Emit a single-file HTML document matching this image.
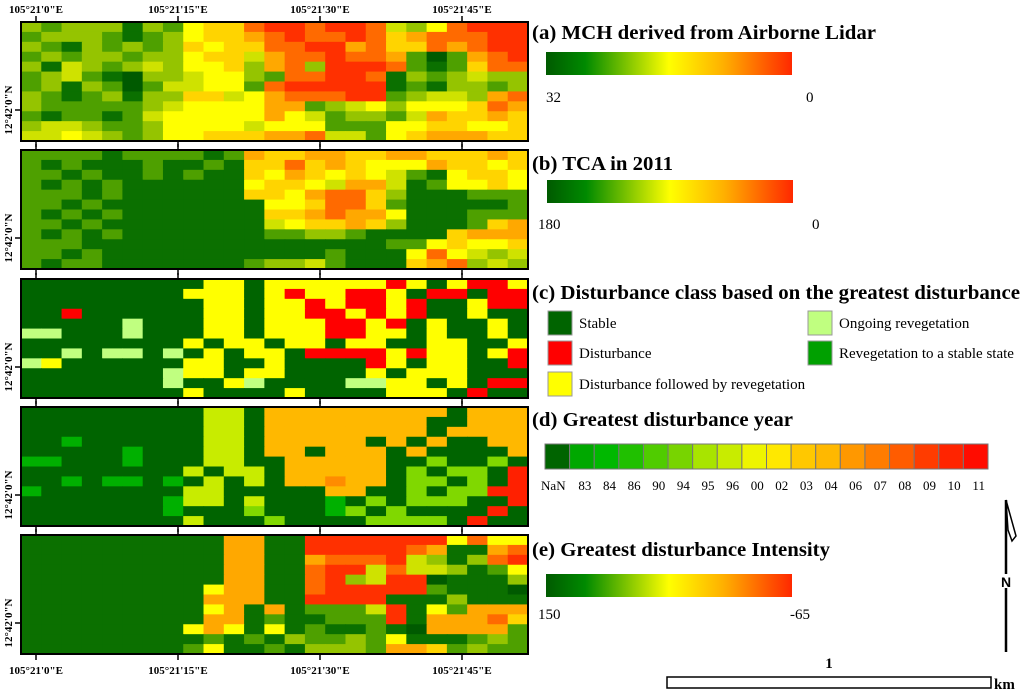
<!DOCTYPE html>
<html><head><meta charset="utf-8">
<style>
html,body{margin:0;padding:0;background:#fff;}
body{position:relative;width:1024px;height:692px;overflow:hidden;}
svg{display:block;font-family:"Liberation Serif",serif;}
</style></head>
<body>
<svg id="fig" width="1024" height="692" viewBox="0 0 1024 692" xmlns="http://www.w3.org/2000/svg">
<defs>
<linearGradient id="ramp" x1="0" x2="1" y1="0" y2="0">
<stop offset="0" stop-color="#005a00"/><stop offset="0.16" stop-color="#008a00"/>
<stop offset="0.5" stop-color="#ffff00"/><stop offset="0.72" stop-color="#ffb000"/>
<stop offset="1" stop-color="#ff2800"/></linearGradient>
</defs>
<g id="maps"></g>
<g id="legends"></g>
</svg>
<script>
// ---- data (raster class codes per row) ----
const panelA = ["3233313256689989984358999","2333212356678988986788899","3213232365668899786687899","2323323356647889887202789","3143234355637839998212688","2342103345532889981323433","2313202445528999991213323","3212313366457888992344378","3222223455557723453555687","2122124555557542332476676","3443223555545552225566556","4454323556667784425677766"];
const panelB = ["2222122221276677667766676","2121112112166867655576656","2212112121165765654215665","2121211111156654774125565","2221211111166578863111222","2212111111115568862111112","2121211111116678775111222","2212111111114566763111267","2121211111112233211116777","2221111111111111112256556","2212111111111112111585434","2122111111123342111678343"];
const panelC = ["SSSSSSSSSYYSYYYYYYDYSYDDY","SSSSSSSSYYYSYDYYDDYSDDSDD","SSSSSSSSSYYSYYDYDDYDSSYDD","SSDSSSSSSYYSYYDDYDYDSSYSS","SSSSSLSSSYYSYYYDDYDSYSSYS","LLSSSLSSSYYSYYYDDYYSYSSYS","SSSSSSSSYSYYSYYSYYSSYYSSY","SSLSLLSLSYSYYSDDDDYDYYSYD","LYSSSSSSYYSSYSSSSDYSYYSSD","SSSSSSSLYYSYYSSSSYSYYYSSS","SSSSSSSLSSYLSSSSLLYYSYSDD","SSSSSSSSYSSSSYSSSSYYYSDSS"];
const panelD = ["GGGGGGGGGyyGoooooooooGooo","GGGGGGGGGyyGooooooooGGooo","GGGGGGGGGyyGooooooooGoooo","GGgGGGGGGyyGoooooGoGoGGoo","GGGGGgGGGyyGooGoooGoGGGGo","ggGGGgGGGyyGGoooooGGlGGlG","GGGGGGGGyGyyGoooooGlGllGr","GGgGggGgGyGyGooOooGllGlGr","gGGGGGGGyyGGGGGooGGlGllrr","GGGGGGGgyyGyGGGgGlGlllGGr","GGGGGGGgGGGlGGGglGlGGGGrG","GGGGGGGGyGGGlGGGGllllGrGG"];
const panelE = ["1111111111771199999995855","1111111111771199999871178","1111111111771178889431389","1111111111771189948443125","1111111111771189349901113","1111111115771189999921110","1111111117771199991113111","1111111115717122249152777","1111111117712112229177786","1111111157515121121077772","1111111112121322325111232","1111111125112133327762322"];
const yearLabels = ["NaN","83","84","86","90","94","95","96","00","02","03","04","06","07","08","09","10","11"];
const xTickLabels = ["105°21'0\"E","105°21'15\"E","105°21'30\"E","105°21'45\"E"];

const rampColors = {"0":"#005a00","1":"#0b7000","2":"#4ea000","3":"#95c400","4":"#cfe200","5":"#ffff00","6":"#ffd400","7":"#ffa800","8":"#ff6a00","9":"#ff3000"};
const classColors = {"S":"#006400","D":"#ff0000","Y":"#ffff00","L":"#c0ff80","G":"#00a000"};
const yearColors = {"G":"#006400","g":"#00b000","l":"#80d800","y":"#c8ec00","o":"#ffb800","O":"#ff8c00","r":"#ff2000","Y":"#ffe000"};
const yearStrip = ["#006400","#00a800","#00b800","#20c000","#50cc00","#78d400","#a8e400","#c8ec00","#eef400","#ffe800","#ffc800","#ffb800","#ff9800","#ff7c00","#ff5c00","#ff3c00","#ff2400","#ff0c00"];

const NS="http://www.w3.org/2000/svg";
function mk(tag, attrs, parent){const e=document.createElementNS(NS,tag);for(const k in attrs)e.setAttribute(k,attrs[k]);parent.appendChild(e);return e;}
const maps=document.getElementById('maps');
const leg=document.getElementById('legends');
const X0=21, X1=528;
const panels=[{d:panelA,c:rampColors,y:22,n:"mch-map"},{d:panelB,c:rampColors,y:150,n:"tca-map"},{d:panelC,c:classColors,y:279,n:"disturbance-class-map"},{d:panelD,c:yearColors,y:407,n:"disturbance-year-map"},{d:panelE,c:rampColors,y:535,n:"disturbance-intensity-map"}];
const PH=119;
const tickXs=[36,178,320,462];
panels.forEach((p)=>{
  const g=mk('g',{},maps);
  
  
  const rows=p.d.length;
  p.d.forEach((row,ri)=>{
    const cols=row.length, cw=(X1-X0)/cols, rh=PH/rows;
    for(let ci=0;ci<cols;ci++){
      const r=mk('rect',{x:X0+ci*cw,y:p.y+ri*rh,width:cw+0.6,height:rh+0.6,fill:p.c[row[ci]]},g);
      
      
    }
  });
  const b=mk('rect',{x:X0,y:p.y,width:X1-X0,height:PH,fill:"none",stroke:"#000","stroke-width":2},g);
  
  
  tickXs.forEach(tx=>{
    mk('line',{x1:tx,x2:tx,y1:p.y-6,y2:p.y,stroke:"#000","stroke-width":1.5},g);
    mk('line',{x1:tx,x2:tx,y1:p.y+PH,y2:p.y+PH+6,stroke:"#000","stroke-width":1.5},g);
  });
  const ty=p.y+88;
  mk('line',{x1:15,x2:21,y1:ty,y2:ty,stroke:"#000","stroke-width":1.5},g);
  const lt=mk('text',{x:0,y:0,transform:`translate(12,${ty}) rotate(-90)`,"text-anchor":"middle","font-size":11,"font-weight":"bold"},g);
  lt.textContent="12°42'0\"N";
  
  
});
xTickLabels.forEach((t,i)=>{
  const a=mk('text',{x:tickXs[i],y:13,"text-anchor":"middle","font-size":11,"font-weight":"bold"},maps);
  a.textContent=t;
  
  
  const b=mk('text',{x:tickXs[i],y:674,"text-anchor":"middle","font-size":11,"font-weight":"bold"},maps);
  b.textContent=t;
  
  
});

function title(txt,y,name,len){const a={x:532,y:y,"font-size":20.5,"font-weight":"bold"};if(len){a.textLength=len;a.lengthAdjust="spacingAndGlyphs";}const t=mk('text',a,leg);t.textContent=txt;}
function label(txt,x,y,name,anchor){const t=mk('text',{x:x,y:y,"font-size":15,"text-anchor":anchor||"start"},leg);t.textContent=txt;}
function bar(x,y,name){const r=mk('rect',{x:x,y:y,width:246,height:23,fill:"url(#ramp)"},leg);}

title("(a) MCH derived from Airborne Lidar",39,"title-a",344);
bar(546,52,"colorbar-a"); label("32",546,102,"colorbar-a-max"); label("0",806,102,"colorbar-a-min");
title("(b) TCA in 2011",170,"title-b",141);
bar(547,180,"colorbar-b"); label("180",538,229,"colorbar-b-max"); label("0",812,229,"colorbar-b-min");
title("(c) Disturbance class based on the greatest disturbance",299,"title-c",488);
const classLeg=[["#006400","Stable",548,311],["#ff0000","Disturbance",548,341],["#ffff00","Disturbance followed by revegetation",548,372],["#c0ff80","Ongoing revegetation",808,311],["#00a000","Revegetation to a stable state",808,341]];
classLeg.forEach(c=>{
  const r=mk('rect',{x:c[2],y:c[3],width:24,height:24,fill:c[0],stroke:"#999","stroke-width":1},leg);
  
  
  label(c[1],c[2]+31,c[3]+17,"class-legend-label");
});
title("(d) Greatest disturbance year",426,"title-d",261);
const sw=(988-545)/yearStrip.length;
yearStrip.forEach((col,i)=>{
  const r=mk('rect',{x:545+i*sw,y:444,width:sw,height:25,fill:col,stroke:"#777","stroke-width":1},leg);
  
  
  const t=mk('text',{x:545+i*sw+sw/2+(i==0?-4:3),y:490,"font-size":13,"text-anchor":"middle"},leg);
  t.textContent=yearLabels[i];
  
  
});
title("(e) Greatest disturbance Intensity",556,"title-e",298);
bar(546,574,"colorbar-e"); label("150",538,619,"colorbar-e-max"); label("-65",790,619,"colorbar-e-min");
</script>
<svg style="position:absolute;left:0;top:0" width="1024" height="692">
<g>
<line x1="1006" y1="500" x2="1006" y2="652" stroke="#000" stroke-width="2.5"/>
<polygon points="1006,500 1016,536 1012,541 1008,530" fill="none" stroke="#000" stroke-width="1.5"/>
<rect x="999" y="574" width="14" height="14" fill="#fff"/>
<text x="1006" y="587" font-size="14" font-weight="bold" text-anchor="middle" font-family="Liberation Sans,sans-serif">N</text>
</g>
<g>
<rect x="667" y="677" width="324" height="11" fill="#fff" stroke="#000" stroke-width="1.5"/>
<text x="829" y="668" font-size="15" font-weight="bold" text-anchor="middle" font-family="Liberation Serif,serif">1</text>
<text x="994" y="689" font-size="15" font-weight="bold" font-family="Liberation Serif,serif">km</text>
</g>
</svg>
</body></html>
